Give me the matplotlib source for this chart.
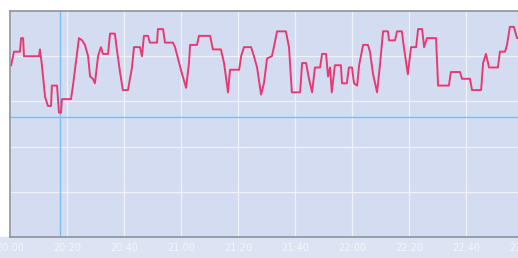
import matplotlib.pyplot as plt
from matplotlib.patches import Rectangle

# minutes after 20:00 and the reading at each point
minutes = [0.4, 1.4, 3.5, 3.9, 4.6, 4.9, 10.2, 10.5, 10.9, 11.2, 11.6, 12.3, 13.3, 14.4,
           14.7, 16.5, 17.2, 17.9, 18.2, 21.4, 22.1, 23.2, 24.2, 25.3, 26.3, 27.4, 28.1,
           29.1, 29.8, 30.9, 31.9, 32.6, 34.4, 35.1, 36.8, 37.5, 38.6, 39.6, 41.4, 42.8,
           43.5, 45.6, 46.3, 47.0, 48.4, 49.1, 51.6, 51.9, 53.7, 54.4, 57.2, 57.9, 60.4,
           61.8, 62.8, 63.2, 65.6, 66.3, 70.2, 71.2, 74.0, 75.1, 76.5, 77.2, 80.4, 81.1,
           82.1, 84.6, 85.6, 86.7, 88.1, 89.1, 90.2, 91.9, 92.6, 93.7, 96.8, 97.9, 98.9,
           101.8, 102.5, 103.9, 104.9, 106.0, 107.0, 108.8, 109.5, 110.9, 111.6, 112.3,
           112.9, 114.0, 116.1, 116.5, 118.2, 118.9, 120.0, 120.7, 121.8, 122.5, 123.9,
           125.6, 126.3, 127.4, 128.8, 129.8, 130.9, 132.6, 133.0, 135.1, 135.8, 137.5,
           138.2, 139.6, 140.7, 142.5, 143.2, 144.6, 145.3, 146.3, 149.5, 150.2, 154.0,
           154.7, 157.9, 158.6, 161.4, 162.1, 165.3, 166.0, 167.0, 168.1, 171.2, 171.9,
           173.7, 174.4, 175.4, 176.8, 177.9, 178.9]
values = [76, 82, 82, 88, 88, 80, 80, 83, 79, 76, 71, 62, 58, 58,
          67, 67, 55, 55, 61, 61, 67, 78, 88, 87, 85, 80, 71,
          70, 68, 80, 84, 81, 81, 90, 90, 83, 73, 65, 65, 75,
          84, 84, 80, 89, 89, 86, 86, 92, 92, 86, 86, 84, 72,
          66, 77, 85, 85, 89, 89, 83, 83, 77, 64, 74, 74, 80,
          84, 84, 80, 75, 63, 68, 79, 80, 84, 91, 91, 84, 64,
          64, 77, 77, 70, 64, 75, 75, 81, 81, 71, 75,
          64, 76, 76, 68, 68, 75, 75, 68, 67, 76, 85,
          85, 82, 72, 64, 76, 91, 91, 87, 87, 91, 91,
          84, 72, 84, 84, 92, 92, 84, 88, 88, 67, 67,
          73, 73, 70, 70, 65, 65, 77, 81, 75, 75, 82,
          82, 85, 93, 93, 88, 88]

tick_minutes = [0, 20, 40, 60, 80, 100, 120, 140, 160, 180]
tick_labels = ["20:00", "20:20", "20:40", "21:00", "21:20", "21:40",
               "22:00", "22:20", "22:40", "23:00"]
level_line = 53.3
marker_minute = 17.5

fig = plt.figure(figsize=(5.18, 2.58), dpi=100)
fig.patch.set_facecolor("white")
# lavender strip under the plot where the time labels sit
fig.add_artist(Rectangle((0, 0), 1, 21 / 258, transform=fig.transFigure,
                         color="#dde3f3", zorder=0))

ax = fig.add_axes([10 / 518, 21 / 258, 513 / 518, 226 / 258])
ax.set_facecolor("#d4dcf1")
ax.set_xlim(0, 180)
ax.set_ylim(0, 100)

ax.set_xticks(tick_minutes)
ax.set_xticklabels(tick_labels)
ax.set_yticks([20, 40, 60, 80])
ax.set_yticklabels([])
ax.tick_params(axis="x", length=0, pad=4, labelsize=7, labelcolor="#f4f6fc")
ax.tick_params(axis="y", length=0)
ax.grid(True, color="#f1f3fb", linewidth=0.9)
ax.set_axisbelow(True)

for side in ["left", "top", "bottom"]:
    ax.spines[side].set_color("#8e929c")
    ax.spines[side].set_linewidth(1.2)
ax.spines["right"].set_visible(False)

ax.axhline(level_line, color="#7fbfe9", linewidth=1.0)
ax.axvline(marker_minute, color="#7fbfe9", linewidth=1.0)

ax.plot(minutes, values, color="#e83a72", linewidth=1.4)

fig.savefig("out.png", dpi=100)
